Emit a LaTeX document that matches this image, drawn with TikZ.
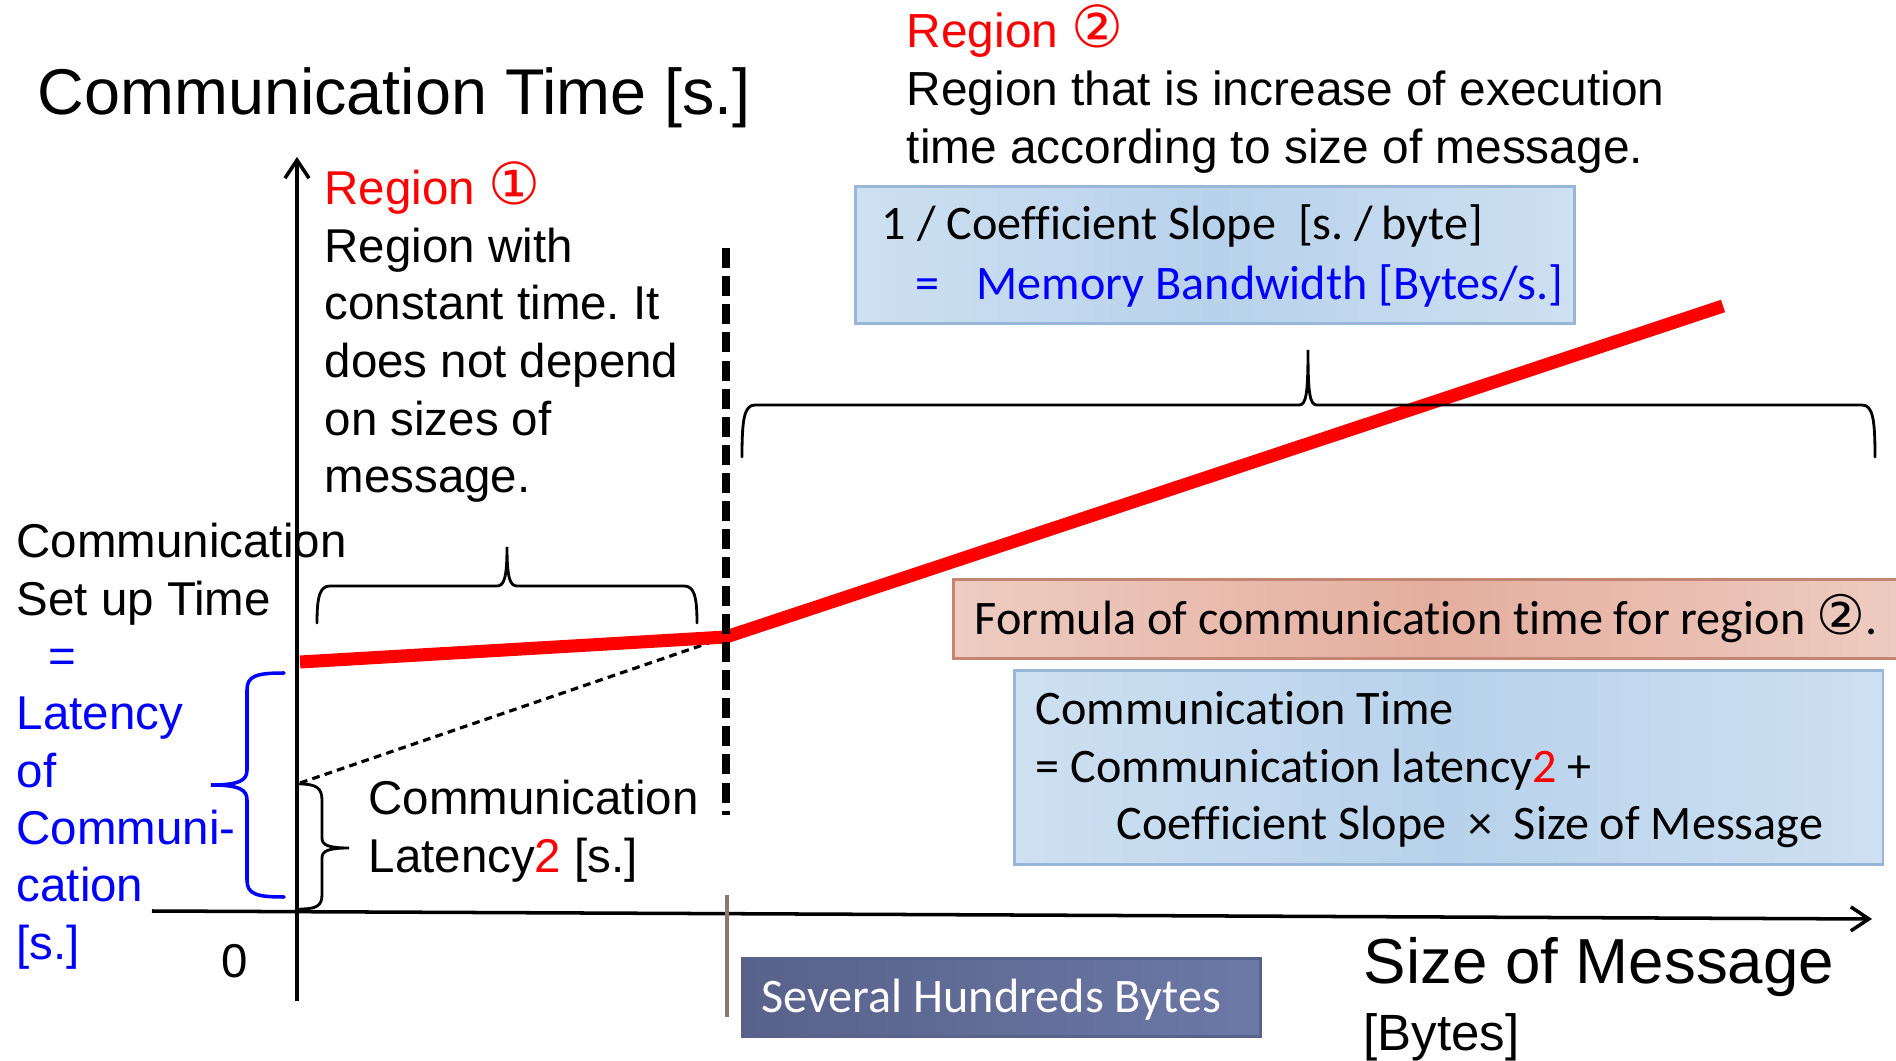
\documentclass[tikz,border=0pt]{standalone}
\usepackage{fontspec}
\setmainfont{Liberation Sans}
\newfontfamily\boxfont[Ligatures=NoCommon]{Carlito}
\newfontfamily\symfont{DejaVu Sans}
\usetikzlibrary{arrows.meta}
\frenchspacing
\definecolor{boxblueA}{RGB}{206,224,241}
\definecolor{boxblueB}{RGB}{184,210,235}
\definecolor{boxblueline}{RGB}{152,182,214}
\definecolor{boxredA}{RGB}{238,204,194}
\definecolor{boxredB}{RGB}{228,174,158}
\definecolor{boxredline}{RGB}{196,134,114}
\definecolor{boxslateA}{RGB}{88,98,138}
\definecolor{boxslateB}{RGB}{108,120,166}
\definecolor{tickcol}{RGB}{140,120,112}
\tikzset{
  txt/.style={inner sep=0pt,align=left,anchor=base west,font=\fontsize{13.5}{16.4}\selectfont},
  boxtxt/.style={inner sep=0pt,align=left,anchor=base west,font=\boxfont\fontsize{13.7}{16.4}\selectfont},
  panel/.style={inner sep=0pt,anchor=north west,line width=0.8pt},
  brc/.style={line width=0.8pt,line cap=round},
  axisline/.style={line width=1pt,-{Straight Barb[length=1.8mm,width=2.4mm]}}
}
\begin{document}
\begin{tikzpicture}[x=0.01cm,y=-0.01cm]
\useasboundingbox (0,0) rectangle (1896,1061);
% key points of the chart
\coordinate (ybot) at (297,1001);
\coordinate (ytop) at (297,157);
\coordinate (xl) at (152,911);
\coordinate (xr) at (1872,919);
\coordinate (r0) at (300,662);
\coordinate (r1) at (726,637);
\coordinate (r2) at (1723,306);
\coordinate (lat) at (300,783);
\coordinate (cut0) at (726,248);
\coordinate (cut1) at (726,815);
\coordinate (tick0) at (727,895);
\coordinate (tick1) at (727,1017);
% panels
\node[panel,draw=boxblueline,left color=boxblueA,right color=boxblueA,middle color=boxblueB,
  minimum width=7.19cm,minimum height=1.37cm] (slopebox) at (854,185) {};
\node[panel,draw=boxredline,left color=boxredA,right color=boxredA,middle color=boxredB,
  minimum width=9.6cm,minimum height=0.79cm] (formbox) at (952,578) {};
\node[panel,draw=boxblueline,left color=boxblueA,right color=boxblueA,middle color=boxblueB,
  minimum width=8.68cm,minimum height=1.94cm] (timebox) at (1013,669) {};
\node[panel,draw=boxslateA,left color=boxslateA,right color=boxslateB,
  minimum width=5.18cm,minimum height=0.78cm] (sizebox) at (741,957) {};
% axes
\draw[axisline] (ybot) -- (ytop);
\draw[axisline] (xl) -- (xr);
\draw[tickcol,line width=1.4pt] (tick0) -- (tick1);
% lines
\draw[dash pattern=on 2.2pt off 1.5pt,line width=0.9pt] (lat) -- (r1);
\draw[red,line width=3.7pt,line join=round] (r0) -- (r1) -- (r2);
\draw[dash pattern=on 5.7pt off 2.3pt,line width=2pt] (cut0) -- (cut1);
% braces
\draw[brc] (317,623) .. controls (317,596) and (320,586) .. (330,586) -- (497,586)
  .. controls (504,586) and (507,578) .. (507,547) .. controls (507,578) and (510,586) .. (517,586)
  -- (684,586) .. controls (694,586) and (697,596) .. (697,623);
\draw[brc] (742,457) .. controls (742,420) and (744,405) .. (755,405) -- (1299,405)
  .. controls (1306,405) and (1308,395) .. (1308,350) .. controls (1308,395) and (1310,405) .. (1317,405)
  -- (1862,405) .. controls (1873,405) and (1875,420) .. (1875,457);
\draw[brc] (300,784) .. controls (316,784) and (322,788) .. (322,800) -- (322,838)
  .. controls (322,845) and (328,848) .. (349,848) .. controls (328,848) and (322,851) .. (322,858)
  -- (322,895) .. controls (322,906) and (316,909) .. (300,909);
\draw[brc,blue,line width=1pt] (284,673) .. controls (256,673) and (247,676) .. (247,690) -- (247,770)
  .. controls (247,780) and (240,785) .. (211,785) .. controls (240,785) and (247,790) .. (247,800)
  -- (247,880) .. controls (247,894) and (256,897) .. (284,897);
% texts (multi-line nodes sit on the baseline of their last line)
\node[txt,font=\fontsize{18.4}{22}\selectfont] (ytitle) at (37,115) {Communication Time [s.]};
\node[txt] (reg1) at (324,493) {\textcolor{red}{Region {\symfont\fontsize{16.5}{16}\selectfont ①}}\\Region with\\constant time. It\\does not depend\\on sizes of\\message.};
\node[txt,font=\fontsize{13.6}{16.5}\selectfont] (reg2) at (906,164) {\textcolor{red}{Region {\symfont\fontsize{16.5}{16}\selectfont ②}}\\Region that is increase of execution\\time according to size of message.};
\node[txt,font=\fontsize{13.5}{16.3}\selectfont] (setup) at (16,959) {Communication\\Set up Time\\\hspace*{0.32cm}\textcolor{blue}{=}\\\textcolor{blue}{Latency}\\\textcolor{blue}{of}\\\textcolor{blue}{Communi-}\\\textcolor{blue}{cation}\\\textcolor{blue}{[s.]}};
\node[txt,font=\fontsize{13.5}{16.5}\selectfont] (lat2) at (368,873) {Communication\\Latency\textcolor{red}{2} [s.]};
\node[txt] (zero) at (221,978) {0};
\node[txt,font=\fontsize{18.1}{22}\selectfont] (xtitle) at (1363,983) {Size of Message};
\node[txt,font=\fontsize{14.5}{17}\selectfont] (xunit) at (1363,1050) {[Bytes]};
\node[boxtxt,font=\boxfont\fontsize{13.7}{17.1}\selectfont] (slopetxt) at (881,300) {1 / Coefficient Slope\hspace{0.22cm}[s. /\,byte]\\\hspace*{0.34cm}\textcolor{blue}{=\hspace{0.37cm}Memory Bandwidth [Bytes/s.]}};
\node[boxtxt] (formtxt) at (974,635) {Formula of communication time for region {\symfont\fontsize{15.5}{16}\selectfont ②}.};
\node[boxtxt] (timetxt) at (1035,840) {Communication Time\\= Communication latency\textcolor{red}{2} +\\\hspace*{0.81cm}Coefficient Slope~~×~~Size of Message};
\node[boxtxt,text=white] (sizetxt) at (761,1012) {Several Hundreds Bytes};
\end{tikzpicture}
\end{document}
